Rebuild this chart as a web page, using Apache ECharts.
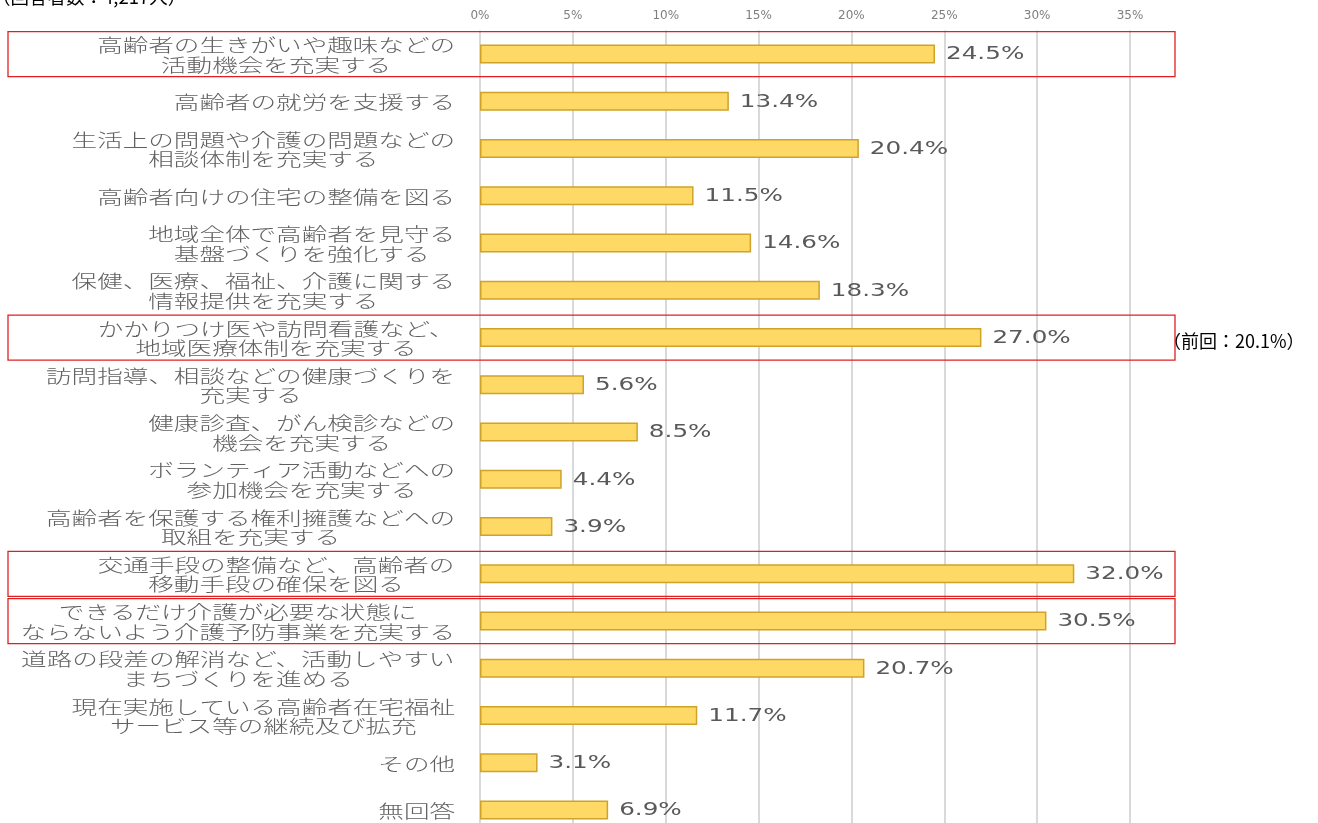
<!DOCTYPE html>
<html>
<head>
<meta charset="utf-8">
<script src="https://cdn.jsdelivr.net/npm/echarts@6/dist/echarts.min.js"></script>
<style>
  html, body { margin: 0; padding: 0; background: #fff; }
  #main { width: 1318px; height: 823px; }
</style>
</head>
<body>
<div id="main"></div>
<script>
// 項目（上から順）
var categories = [
  "高齢者の生きがいや趣味などの\n活動機会を充実する",
  "高齢者の就労を支援する",
  "生活上の問題や介護の問題などの\n相談体制を充実する",
  "高齢者向けの住宅の整備を図る",
  "地域全体で高齢者を見守る\n基盤づくりを強化する",
  "保健、医療、福祉、介護に関する\n情報提供を充実する",
  "かかりつけ医や訪問看護など、\n地域医療体制を充実する",
  "訪問指導、相談などの健康づくりを\n充実する",
  "健康診査、がん検診などの\n機会を充実する",
  "ボランティア活動などへの\n参加機会を充実する",
  "高齢者を保護する権利擁護などへの\n取組を充実する",
  "交通手段の整備など、高齢者の\n移動手段の確保を図る",
  "できるだけ介護が必要な状態に\nならないよう介護予防事業を充実する",
  "道路の段差の解消など、活動しやすい\nまちづくりを進める",
  "現在実施している高齢者在宅福祉\nサービス等の継続及び拡充",
  "その他",
  "無回答"
];
var values = [24.5, 13.4, 20.4, 11.5, 14.6, 18.3, 27.0, 5.6, 8.5, 4.4, 3.9, 32.0, 30.5, 20.7, 11.7, 3.1, 6.9];
var xTicks = [0, 5, 10, 15, 20, 25, 30, 35];
// 赤枠で囲む項目
var highlighted = [0, 6, 11, 12];
var titleText = "（回答者数：4,217人）";
var noteText = "（前回：20.1%）";
var noteRow = 6;

var myChart = echarts.init(document.getElementById("main"));
var option = {
  animation: false,
  grid: {
    left: 480,
    right: 188,
    top: 30.4,
    height: 803.25,
    containLabel: false,
    outerBoundsMode: "none"
  },
  xAxis: {
    type: "value",
    position: "top",
    min: xTicks[0],
    max: xTicks[xTicks.length - 1],
    interval: 5,
    axisLine: { show: false },
    axisTick: { show: false },
    axisLabel: {
      formatter: "{value}%",
      color: "#7f7f7f",
      fontFamily: "DejaVu Sans",
      fontSize: 12,
      margin: 9
    },
    splitLine: { lineStyle: { color: "#d9d9d9", width: 2 } }
  },
  yAxis: {
    type: "category",
    inverse: true,
    data: categories,
    axisLine: { show: false },
    axisTick: { show: false },
    axisLabel: { show: false }
  },
  series: [
    {
      type: "bar",
      data: values,
      barWidth: 19,
      itemStyle: {
        color: "#ffd966",
        borderColor: "#cfa22a",
        borderWidth: 1.5
      },
      label: { show: false }
    }
  ]
};
myChart.setOption(option);

// ラベル・枠は軸の座標から配置する
var fs = 18;
var stretch = 1.42;
var graphics = [];
categories.forEach(function (name, i) {
  var pt = myChart.convertToPixel({ xAxisIndex: 0, yAxisIndex: 0 }, [values[i], i]);
  var y = pt[1];
  var lines = name.split("\n");
  var maxLen = Math.max.apply(null, lines.map(function (s) { return s.length; }));
  var cx = 455 - maxLen * fs * stretch / 2;
  graphics.push({
    type: "text",
    x: cx,
    y: y + 1,
    scaleX: stretch,
    style: {
      text: name,
      fill: "#606060",
      font: "300 " + fs + "px 'Noto Sans CJK JP'",
      align: "center",
      textAlign: "center",
      verticalAlign: "middle",
      textVerticalAlign: "middle",
      lineHeight: 19.5
    }
  });
  graphics.push({
    type: "text",
    x: pt[0] + 11,
    y: y + 1,
    scaleX: 1.45,
    style: {
      text: values[i].toFixed(1) + "%",
      fill: "#595959",
      font: "17px 'DejaVu Sans'",
      align: "left",
      textAlign: "left",
      verticalAlign: "middle",
      textVerticalAlign: "middle"
    }
  });
  if (highlighted.indexOf(i) >= 0) {
    graphics.push({
      type: "rect",
      shape: { x: 8, y: y - 22.5, width: 1167, height: 45 },
      style: { fill: "none", stroke: "#e02020", lineWidth: 1.3 }
    });
  }
  if (i === noteRow) {
    graphics.push({
      type: "text",
      x: 1163,
      y: y + 4,
      style: {
        text: noteText,
        fill: "#000",
        font: "18px 'Noto Sans CJK JP'",
        align: "left",
        textAlign: "left",
        verticalAlign: "middle",
        textVerticalAlign: "middle"
      }
    });
  }
});
graphics.push({
  type: "text",
  x: -8,
  y: -3,
  style: {
    text: titleText,
    fill: "#000",
    font: "18.5px 'Noto Sans CJK JP'",
    align: "left",
    textAlign: "left",
    verticalAlign: "middle",
    textVerticalAlign: "middle"
  }
});
myChart.setOption({ graphic: graphics });

window.addEventListener("resize", function () {
  myChart.resize();
});
</script>
</body>
</html>
